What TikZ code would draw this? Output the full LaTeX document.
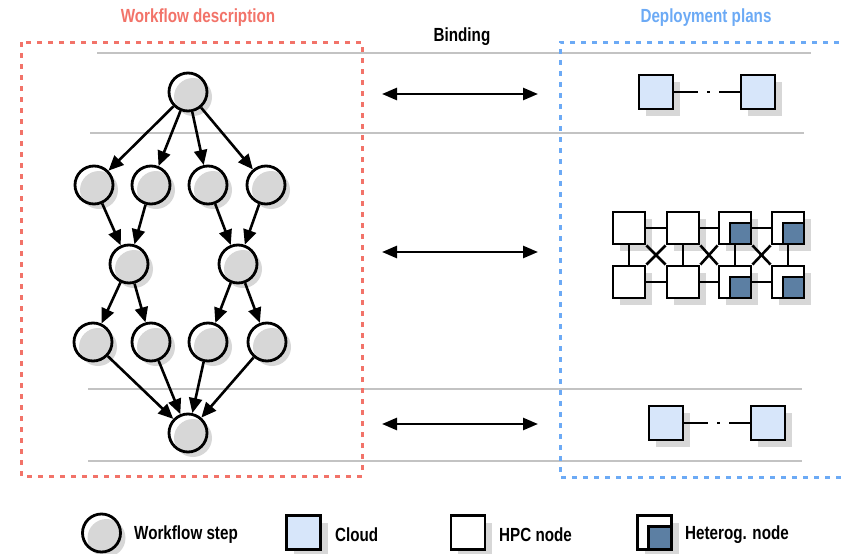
\documentclass[tikz,border=0pt]{standalone}
\usepackage{fontspec}
\setmainfont{Liberation Sans}[FakeStretch=0.8]
\usetikzlibrary{arrows.meta,shadows}
\definecolor{titlered}{RGB}{242,115,105}
\definecolor{titleblue}{RGB}{108,170,245}
\definecolor{cloudfill}{RGB}{215,230,250}
\definecolor{hetblue}{RGB}{92,127,163}
\definecolor{shgray}{RGB}{215,215,215}
\definecolor{linegray}{RGB}{195,195,195}
\newcommand\wsn[3]{%
  \fill[shgray] (#2+5,#3+5) circle[radius=19pt];
  \node[wstep] (#1) at (#2,#3) {};}
\begin{document}
\begin{tikzpicture}[x=1pt,y=-1pt,
  lbl/.style={font=\fontsize{19}{21}\selectfont\bfseries,inner sep=0pt},
  sepline/.style={draw=linegray,line width=1.6pt},
  frame/.style={line width=3pt,dash pattern=on 5pt off 6pt},
  wstep/.style={circle,draw,line width=2.8pt,minimum size=38pt,inner sep=0pt},
  hpc/.style={rectangle,draw,line width=2.8pt,minimum size=32pt,inner sep=0pt,fill=white,
    drop shadow={shadow xshift=7pt,shadow yshift=-7pt,fill=shgray,opacity=1}},
  cloud/.style={hpc,fill=cloudfill,minimum size=34pt},
  hetin/.style={rectangle,draw,line width=2.8pt,minimum size=21pt,inner sep=0pt,fill=hetblue,anchor=south east},
  flow/.style={line width=2.6pt,-{Triangle[length=15pt,width=13pt]}},
  bind/.style={line width=2.6pt,{Triangle[length=15pt,width=12pt]}-{Triangle[length=15pt,width=12pt]}},
  link/.style={line width=2.6pt},
  gap/.style={line width=2.6pt,dash pattern=on 24pt off 9pt on 3pt off 9pt on 60pt off 0pt}
]
\useasboundingbox (0,0) rectangle (841,554);

% separator lines
\draw[sepline] (97,53) -- (811,53);
\draw[sepline] (90,133) -- (804,133);
\draw[sepline] (88,389) -- (802,389);
\draw[sepline] (88,461) -- (802,461);

% frames
\draw[frame,titlered] (21,42) rectangle (362,476);
\draw[frame,titleblue] (850,42) -- (560,42) -- (560,477) -- (850,477);

% titles
\node[lbl,text=titlered] (t1) at (198,18) {Workflow description};
\node[lbl,text=titleblue] (t2) at (706,18) {Deployment plans};
\node[lbl] (t3) at (462,37) {Binding};

% workflow
\wsn{top}{188}{92}
\wsn{a1}{94}{185}
\wsn{a2}{151}{185}
\wsn{a3}{208}{185}
\wsn{a4}{266}{185}
\wsn{b1}{129}{264}
\wsn{b2}{238}{264}
\wsn{c1}{93}{342}
\wsn{c2}{151}{342}
\wsn{c3}{208}{342}
\wsn{c4}{267}{342}
\wsn{bot}{188}{433}

\foreach \i in {1,2,3,4} \draw[flow] (top) -- (a\i);
\draw[flow] (a1) -- (b1);
\draw[flow] (a2) -- (b1);
\draw[flow] (a3) -- (b2);
\draw[flow] (a4) -- (b2);
\draw[flow] (b1) -- (c1);
\draw[flow] (b1) -- (c2);
\draw[flow] (b2) -- (c3);
\draw[flow] (b2) -- (c4);
\foreach \i in {1,2,3,4} \draw[flow] (c\i) -- (bot);

% binding arrows
\coordinate (l1) at (382,94);  \coordinate (r1) at (538,94);
\coordinate (l2) at (382,252); \coordinate (r2) at (538,252);
\coordinate (l3) at (382,424); \coordinate (r3) at (538,424);
\draw[bind] (l1) -- (r1);
\draw[bind] (l2) -- (r2);
\draw[bind] (l3) -- (r3);

% top cloud plan
\node[cloud] (p1) at (656,92) {};
\node[cloud] (p2) at (758,92) {};
\draw[gap] (p1.east) -- (p2.west);

% bottom cloud plan
\node[cloud] (q1) at (666,423) {};
\node[cloud] (q2) at (768,423) {};
\draw[gap] (q1.east) -- (q2.west);

% HPC grid
\foreach \x [count=\i] in {629,683,735,788} {
  \node[hpc] (u\i) at (\x,228) {};
  \node[hpc] (d\i) at (\x,282) {};
}
\foreach \i in {3,4} {
  \node[hetin] (uh\i) at (u\i.south east) {};
  \node[hetin] (dh\i) at (d\i.south east) {};
}
\foreach \i in {1,2,3,4} \draw[link] (u\i) -- (d\i);
\foreach \i/\j in {1/2,2/3,3/4} {
  \draw[link] (u\i) -- (u\j);
  \draw[link] (d\i) -- (d\j);
  \draw[link] (u\i.south east) -- (d\j.north west);
  \draw[link] (u\j.south west) -- (d\i.north east);
}

% legend
\wsn{lg1}{101.5}{533}
\node[lbl,anchor=west] (lt1) at (134,535) {Workflow step};
\node[cloud] (lg2) at (303.5,532.5) {};
\node[lbl,anchor=west] (lt2) at (335,535) {Cloud};
\node[hpc,minimum size=34pt] (lg3) at (468,532.5) {};
\node[lbl,anchor=west] (lt3) at (499,535) {HPC node};
\node[hpc,minimum size=34pt] (lg4) at (654.5,532.5) {};
\node[hetin,minimum size=23pt] (lg4i) at (lg4.south east) {};
\node[lbl,anchor=west] (lt4) at (685,535) {Heterog. node};
\end{tikzpicture}
\end{document}
